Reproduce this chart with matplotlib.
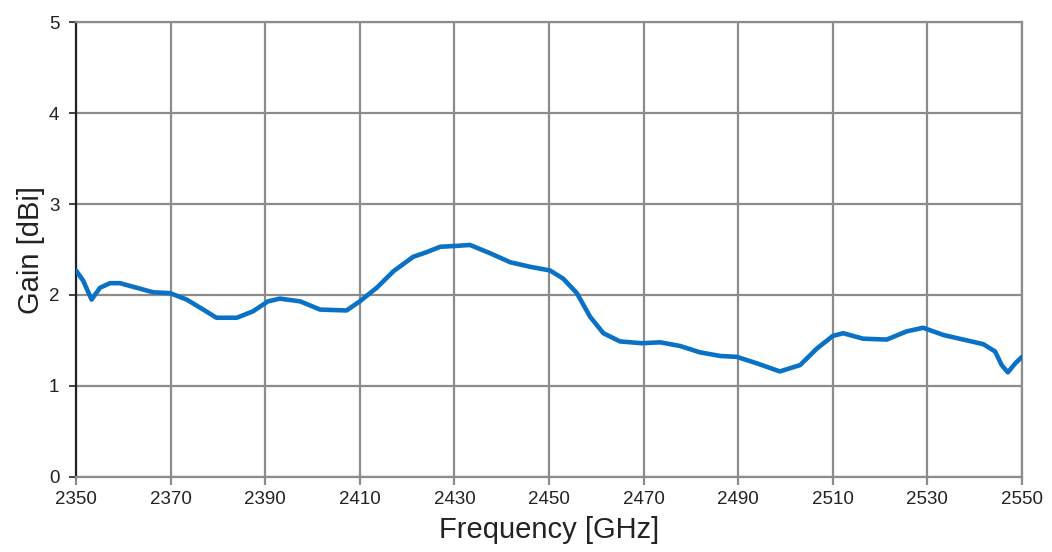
import matplotlib.pyplot as plt

freq = [2350, 2351.5, 2353.3, 2355.1, 2357.2, 2359.3, 2362.8, 2366.3, 2369.9, 2373.4,
        2376.9, 2379.7, 2384, 2387.4, 2390.6, 2393.1, 2397.4, 2401.6, 2407.2, 2410,
        2413.6, 2417.1, 2421.3, 2424.1, 2427, 2430.5, 2433.3, 2437.5, 2441.8, 2446,
        2450.2, 2453, 2455.9, 2458.7, 2461.5, 2465, 2469.6, 2473.5, 2477.7, 2481.9,
        2486.2, 2489.7, 2493.9, 2498.8, 2503.1, 2506.6, 2510, 2512.2, 2516.4, 2521.4,
        2525.6, 2529.1, 2533.4, 2537.6, 2541.8, 2544.3, 2545.7, 2547, 2548.6, 2550]
gain = [2.27, 2.16, 1.95, 2.08, 2.13, 2.13, 2.08, 2.03, 2.02, 1.95,
        1.84, 1.75, 1.75, 1.82, 1.93, 1.96, 1.93, 1.84, 1.83, 1.93,
        2.08, 2.26, 2.42, 2.47, 2.53, 2.54, 2.55, 2.46, 2.36, 2.31,
        2.27, 2.18, 2.02, 1.76, 1.58, 1.49, 1.47, 1.48, 1.44, 1.37,
        1.33, 1.32, 1.25, 1.16, 1.23, 1.41, 1.55, 1.58, 1.52, 1.51,
        1.60, 1.64, 1.56, 1.51, 1.46, 1.38, 1.23, 1.15, 1.25, 1.32]

xticks = list(range(2350, 2551, 20))
yticks = [0, 1, 2, 3, 4, 5]

plt.rcParams['font.family'] = ['Liberation Sans', 'DejaVu Sans']

fig = plt.figure(figsize=(10.52, 5.52), dpi=100)
ax = fig.add_axes([0.0722, 0.1359, 0.8993, 0.8242])

ax.plot(freq, gain, color='#0a72c6', linewidth=3.3, solid_joinstyle='round',
        solid_capstyle='round', zorder=3)

ax.set_xlim(2350, 2550)
ax.set_ylim(0, 5)
ax.set_xticks(xticks)
ax.set_yticks(yticks)
ax.grid(True, color='#8c8c8c', linewidth=1.6)

for s in ['top', 'right', 'bottom']:
    ax.spines[s].set_color('#8c8c8c')
    ax.spines[s].set_linewidth(1.6)
ax.spines['left'].set_color('#222222')
ax.spines['left'].set_linewidth(1.6)

ax.tick_params(axis='x', colors='#8c8c8c', labelcolor='#222222', labelsize=13.5,
               length=6, width=1.6, pad=4)
ax.tick_params(axis='y', colors='#222222', labelsize=13.5, length=5, width=1.2, pad=7)

ax.set_xlabel('Frequency [GHz]', fontsize=21, color='#222222', labelpad=6)
ax.set_ylabel('Gain [dBi]', fontsize=21, color='#222222', labelpad=3)

fig.savefig('out.png', dpi=100)
